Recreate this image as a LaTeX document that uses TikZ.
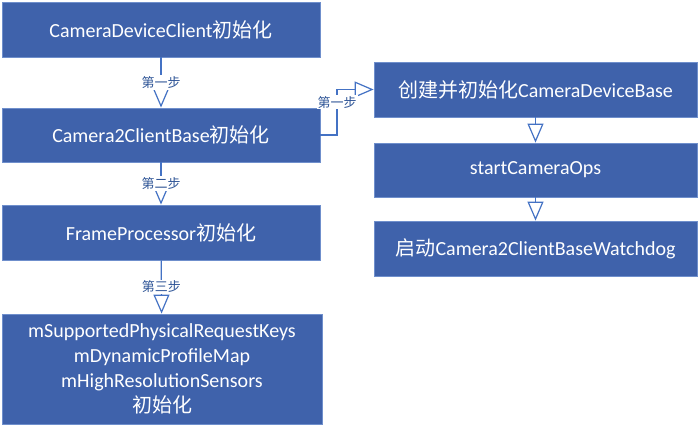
\documentclass[tikz,border=0pt]{standalone}
\usepackage{fontspec}
\setmainfont{Carlito}
\newfontfamily\cjk{Noto Sans CJK SC}
\usetikzlibrary{arrows.meta}
\definecolor{boxfill}{HTML}{3F62AB}
\definecolor{boxline}{HTML}{6F8FCC}
\definecolor{conn}{HTML}{4472C4}
\definecolor{lbl}{HTML}{2F5597}
\tikzset{
  x=1pt,y=-1pt,
  blk/.style={draw=boxline,line width=0.8pt,fill=boxfill,text=white,font=\fontsize{20}{25}\selectfont,align=center,inner sep=0pt},
  arr/.style={draw=conn,line width=1.2pt,-{Triangle[open,length=19pt,width=16pt,fill=white]}},
  lab/.style={fill=white,text=lbl,font=\cjk\fontsize{13}{14}\selectfont,inner sep=1pt}
}
\begin{document}
\begin{tikzpicture}
\useasboundingbox (0,0) rectangle (700,427);
\node[blk,minimum width=318pt,minimum height=55pt] (a) at (161,29.5) {CameraDeviceClient{\cjk 初始化}};
\node[blk,minimum width=318pt,minimum height=54pt] (b) at (161,135) {Camera2ClientBase{\cjk 初始化}};
\node[blk,minimum width=318pt,minimum height=55pt] (c) at (161,232.5) {FrameProcessor{\cjk 初始化}};
\node[blk,minimum width=320pt,minimum height=110pt] (d) at (162,369) {mSupportedPhysicalRequestKeys\\mDynamicProfileMap\\mHighResolutionSensors\\{\cjk 初始化}};
\node[blk,minimum width=323pt,minimum height=55pt] (e) at (535.5,89.5) {{\cjk 创建并初始化}CameraDeviceBase};
\node[blk,minimum width=323pt,minimum height=54pt] (f) at (535.5,170) {startCameraOps};
\node[blk,minimum width=323pt,minimum height=55pt] (g) at (535.5,248.5) {{\cjk 启动}Camera2ClientBaseWatchdog};
\draw[arr] (a) -- node[lab] {第一步} (b);
\draw[arr] (b) -- node[lab] {第二步} (c);
\draw[arr] (c) -- node[lab] {第三步} (d);
\coordinate (k1) at (337,135);
\coordinate (k2) at (337,89.5);
\draw[arr] (b.east) -- (k1) -- node[lab,pos=0.72] {第一步} (k2) -- (e.west);
\draw[arr] (e) -- (f);
\draw[arr] (f) -- (g);
\end{tikzpicture}
\end{document}
